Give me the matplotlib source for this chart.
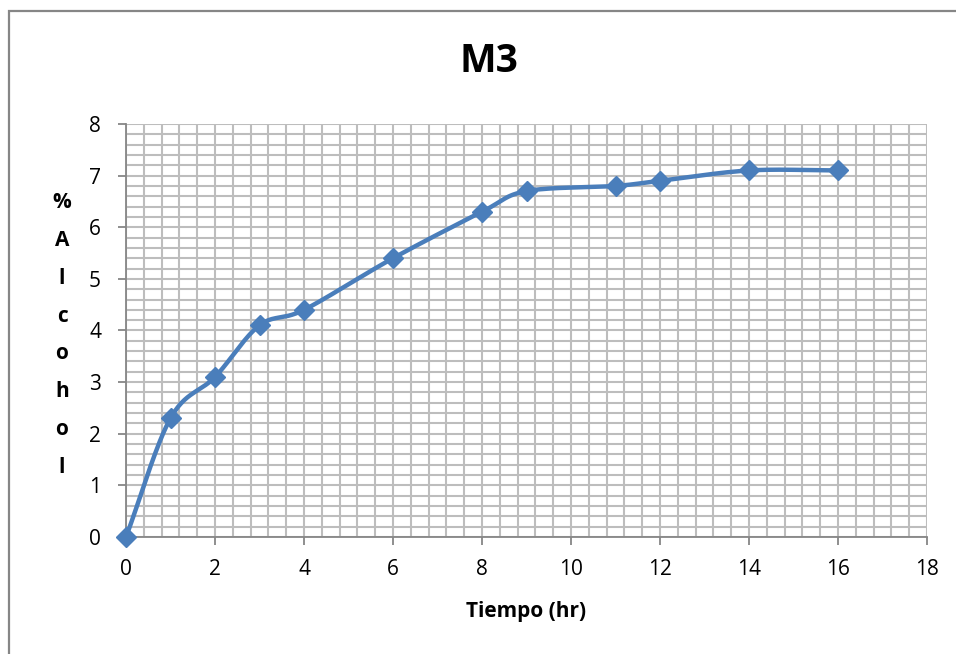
import matplotlib.pyplot as plt
import numpy as np
from matplotlib.patches import Rectangle
from matplotlib.ticker import MultipleLocator

plt.rcParams['font.family'] = ['Open Sans', 'DejaVu Sans']

tiempo = [0, 1, 2, 3, 4, 6, 8, 9, 11, 12, 14, 16]
alcohol = [0, 2.3, 3.1, 4.1, 4.4, 5.4, 6.3, 6.7, 6.8, 6.9, 7.1, 7.1]
title = 'M3'
xlabel = 'Tiempo (hr)'
ylabel = '%Alcohol'


def smooth_curve(x, y, n=30):
    """Catmull-Rom style smoothing like the spreadsheet smoothed line"""
    x = np.asarray(x, float)
    y = np.asarray(y, float)
    px = np.concatenate([[2 * x[0] - x[1]], x, [2 * x[-1] - x[-2]]])
    py = np.concatenate([[2 * y[0] - y[1]], y, [2 * y[-1] - y[-2]]])
    xs, ys = [], []
    t = np.linspace(0, 1, n)
    for i in range(1, len(px) - 2):
        for p, out in ((px, xs), (py, ys)):
            p0, p1, p2, p3 = p[i - 1], p[i], p[i + 1], p[i + 2]
            c1 = p1 + (p2 - p0) / 6
            c2 = p2 - (p3 - p1) / 6
            out.extend((1 - t) ** 3 * p1 + 3 * (1 - t) ** 2 * t * c1
                       + 3 * (1 - t) * t ** 2 * c2 + t ** 3 * p2)
    return np.array(xs), np.array(ys)


fig = plt.figure(figsize=(9.56, 6.54), dpi=100)
fig.patches.append(Rectangle((9 / 956, -0.1), 1.2, 1 - 11 / 654 + 0.1,
                             transform=fig.transFigure, fill=False,
                             edgecolor='#868686', linewidth=1.6))
ax = fig.add_axes([0.1318, 0.1789, 0.8379, 0.6315])

sx, sy = smooth_curve(tiempo, alcohol)
ax.plot(sx, sy, color='#4a7ebb', linewidth=3.2, zorder=3, clip_on=False)
ax.plot(tiempo, alcohol, linestyle='none', marker='D', markersize=10,
        color='#4a7ebb', zorder=4, clip_on=False)

ax.set_xlim(0, 18)
ax.set_ylim(0, 8)
ax.xaxis.set_major_locator(MultipleLocator(2))
ax.xaxis.set_minor_locator(MultipleLocator(0.4))
ax.yaxis.set_major_locator(MultipleLocator(1))
ax.yaxis.set_minor_locator(MultipleLocator(0.2))
ax.grid(which='both', color='#bdbdbd', linewidth=1.5)
ax.set_axisbelow(True)
ax.tick_params(which='minor', length=0)
ax.tick_params(which='major', length=6, width=1.3, color='#868686',
               labelsize=15)
ax.tick_params(axis='x', pad=10)
ax.tick_params(axis='y', pad=12)
for side in ('top', 'right'):
    ax.spines[side].set_visible(False)
for side in ('left', 'bottom'):
    ax.spines[side].set_color('#868686')
    ax.spines[side].set_linewidth(1.3)

fig.text(489 / 956, 1 - 62 / 654, title, fontsize=28, fontweight='bold',
         ha='center', va='center')
fig.text(526 / 956, 1 - 612 / 654, xlabel, fontsize=15, fontweight='bold',
         ha='center', va='center')
fig.text(62 / 956, 1 - 335 / 654, '\n'.join(ylabel), fontsize=15,
         fontweight='bold', ha='center', va='center', linespacing=2.05)

fig.savefig('out.png', dpi=100)
